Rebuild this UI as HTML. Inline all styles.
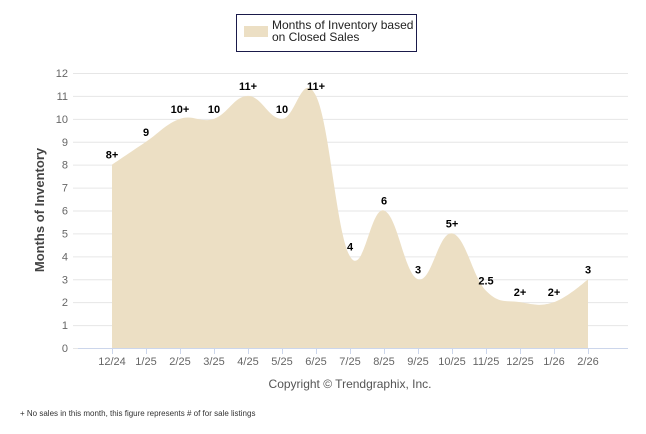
<!DOCTYPE html>
<html><head><meta charset="utf-8"><style>
body{margin:0;background:#fff;}
svg{display:block;font-family:"Liberation Sans",sans-serif;}
</style></head><body>
<svg width="646" height="434" viewBox="0 0 646 434">
<g id="grid"></g>
<path id="area" fill="#ecdfc4"></path>
<g id="xaxis"></g>
<g id="labels"></g>
<text x="44" y="210" transform="rotate(-90 44 210)" text-anchor="middle" font-size="13" font-weight="bold" fill="#444">Months of Inventory</text>
<text x="350" y="388" text-anchor="middle" font-size="12" fill="#555">Copyright © Trendgraphix, Inc.</text>
<text x="20" y="416" font-size="8" fill="#333">+ No sales in this month, this figure represents # of for sale listings</text>
<g>
<rect x="236.5" y="14.5" width="180" height="37" fill="#fff" stroke="#1a1a4a" stroke-width="1"></rect>
<rect x="244" y="26" width="24" height="11" fill="#ecdfc4"></rect>
<text x="272" y="29" font-size="12" fill="#222">Months of Inventory based</text>
<text x="272" y="41" font-size="12" fill="#222">on Closed Sales</text>
</g>
</svg>
<script>
const categories=["12/24","1/25","2/25","3/25","4/25","5/25","6/25","7/25","8/25","9/25","10/25","11/25","12/25","1/26","2/26"];
const values=[8,9,10,10,11,10,11,4,6,3,5,2.5,2,2,3];
const pointLabels=["8+","9","10+","10","11+","10","11+","4","6","3","5+","2.5","2+","2+","3"];
const yTicks=[0,1,2,3,4,5,6,7,8,9,10,11,12];
const NS="http://www.w3.org/2000/svg";
const x0=112,xStep=34,yBase=348,yTop=73,yMax=12;
const xs=i=>x0+i*xStep;
const ys=v=>yBase-(v/yMax)*(yBase-yTop);
function el(t,a,txt){const e=document.createElementNS(NS,t);for(const k in a)e.setAttribute(k,a[k]);if(txt!=null)e.textContent=txt;return e;}
const grid=document.getElementById('grid');
yTicks.forEach(t=>{
 const l=el('line',{x1:73,x2:628,y1:ys(t)+0.5,y2:ys(t)+0.5,stroke:'#e6e6e6'});
 
 
 grid.appendChild(l);
 const tx=el('text',{x:68,y:ys(t)+4,'text-anchor':'end','font-size':11,fill:'#666'},t);
 
 
 grid.appendChild(tx);
});
const xa=document.getElementById('xaxis');
const ax=el('line',{x1:78,x2:628,y1:yBase+0.5,y2:yBase+0.5,stroke:'#ccd6eb'});


xa.appendChild(ax);
categories.forEach((c,i)=>{
 const tk=el('line',{x1:xs(i)+0.5,x2:xs(i)+0.5,y1:yBase,y2:yBase+6,stroke:'#ccd6eb'});
 
 
 xa.appendChild(tk);
 const tx=el('text',{x:xs(i),y:365,'text-anchor':'middle','font-size':11,fill:'#666'},c);
 
 
 xa.appendChild(tx);
});
const pts=values.map((v,i)=>[xs(i),ys(v)]);
const sm=1.5,den=sm+1;
let d=`M${pts[0][0]},${yBase} L${pts[0][0]},${pts[0][1]}`;
function ctrl(i){
 const p=pts[i],a=pts[i-1],b=pts[i+1];
 let lx=(sm*p[0]+a[0])/den,ly=(sm*p[1]+a[1])/den,rx=(sm*p[0]+b[0])/den,ry=(sm*p[1]+b[1])/den;
 let corr=0;if(rx!==lx)corr=((ry-ly)*(rx-p[0]))/(rx-lx)+p[1]-ry;
 ly+=corr;ry+=corr;
 return {l:[lx,ly],r:[rx,ry]};
}
const C=pts.map((p,i)=>(i>0&&i<pts.length-1)?ctrl(i):{l:p,r:p});
for(let i=1;i<pts.length;i++){
 const c1=C[i-1].r,c2=C[i].l,p=pts[i];
 d+=` C${c1[0]},${c1[1]} ${c2[0]},${c2[1]} ${p[0]},${p[1]}`;
}
d+=` L${pts[pts.length-1][0]},${yBase} Z`;
document.getElementById('area').setAttribute('d',d);
const lg=document.getElementById('labels');
pointLabels.forEach((t,i)=>{
 const tx=el('text',{x:xs(i),y:ys(values[i])-6,'text-anchor':'middle','font-size':11,'font-weight':'bold',fill:'#000'},t);
 
 
 lg.appendChild(tx);
});
</script>
</body></html>
